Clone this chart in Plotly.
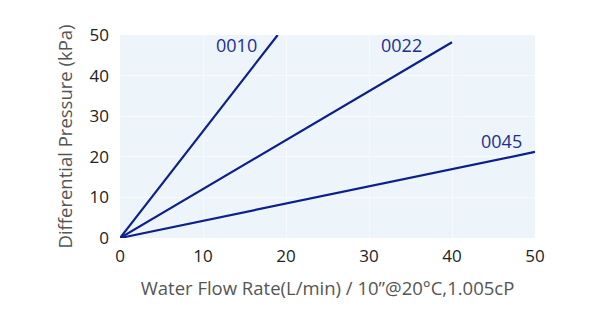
import plotly.graph_objects as go

series_names = ["0010", "0022", "0045"]
flow_x = [[0, 19], [0, 40], [0, 50]]
pressure_y = [[0, 50], [0, 48.2], [0, 21.2]]
label_x = [14, 33.9, 46]
label_y = [47.6, 47.6, 23.9]
x_ticks = [0, 10, 20, 30, 40, 50]
y_ticks = [0, 10, 20, 30, 40, 50]

line_color = "#0b2088"
fig = go.Figure()
for name, xs, ys in zip(series_names, flow_x, pressure_y):
    fig.add_trace(go.Scatter(x=xs, y=ys, mode="lines", name=name,
                             line=dict(color=line_color, width=2.2), showlegend=False))
for name, lx, ly in zip(series_names, label_x, label_y):
    fig.add_annotation(x=lx, y=ly, text=name, showarrow=False,
                       font=dict(family="Open Sans", size=18, color="#1a2f96"))

fig.update_layout(
    width=600, height=327,
    margin=dict(l=120, r=65, t=35, b=89),
    paper_bgcolor="white", plot_bgcolor="#eef5fa",
    font=dict(family="Open Sans", color="#333333"),
)
fig.update_xaxes(range=[0, 50], tickvals=x_ticks, showgrid=True, gridcolor="#f8fbfd",
                 zeroline=False, showline=False, tickfont=dict(size=17, color="#222222"),
                 ticks="", ticklabelstandoff=6,
                 title=dict(text="Water Flow Rate(L/min) / 10”@20°C,1.005cP",
                            font=dict(size=18.5, color="#555555"), standoff=16))
fig.update_yaxes(range=[0, 50], tickvals=y_ticks, showgrid=True, gridcolor="#f8fbfd",
                 zeroline=False, showline=False, tickfont=dict(size=17, color="#222222"),
                 ticks="", ticklabelstandoff=10,
                 title=dict(text="Differential Pressure (kPa)",
                            font=dict(size=18.5, color="#555555"), standoff=12))
fig.write_html("out.html")
